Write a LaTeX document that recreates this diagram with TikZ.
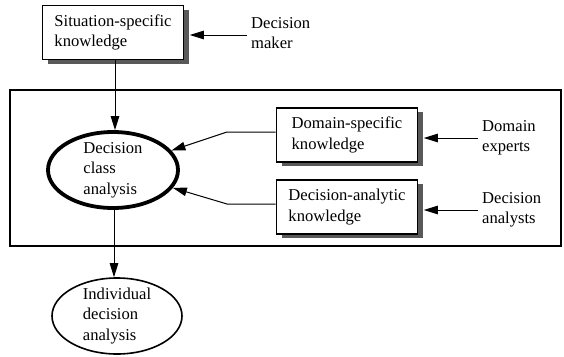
\documentclass[tikz,border=0pt]{standalone}
\usepackage{fontspec}
\setmainfont{Liberation Serif}
\usetikzlibrary{shapes.geometric,arrows.meta,shadows}
\begin{document}
\begin{tikzpicture}[x=1pt,y=-1pt,
  every node/.style={font=\fontsize{16.6}{20.5}\selectfont},
  kbox/.style={draw, line width=1.6pt, fill=white, align=left, inner sep=0pt,
    minimum width=141pt, minimum height=54pt,
    drop shadow={shadow xshift=5pt, shadow yshift=-4pt, fill=black!65, opacity=1}},
  oval/.style={ellipse, draw, align=left, inner sep=-3pt, minimum width=130pt, minimum height=76pt},
  actor/.style={anchor=west, align=left, inner sep=4pt},
  frame/.style={draw, line width=1.4pt, inner sep=0pt},
  conn/.style={line width=1pt},
  arr/.style={conn, -{Triangle[length=14pt,width=8.5pt]}}
]
\useasboundingbox (0,0) rectangle (564,356);

\node[frame, minimum width=551pt, minimum height=156pt] (frame) at (285.5,168) {};

\node[kbox] (sit) at (113,32.5) {Situation-specific\\knowledge};
\node[actor] (dm) at (247,33) {Decision\\maker};

\node[kbox] (dom) at (347,135) {Domain-specific\\knowledge};
\node[kbox] (da) at (347,207) {Decision-analytic\\knowledge};
\node[actor] (de) at (478,138) {Domain\\experts};
\node[actor] (dan) at (478,210) {Decision\\analysts};

\node[oval, line width=3.8pt] (dca) at (113,170) {Decision\\class\\analysis};
\node[oval, line width=1.6pt] (ida) at (117,316) {Individual\\decision\\analysis};

\coordinate (c1) at (227,132);
\coordinate (c2) at (227,204);

\draw[arr] (dm.west |- 0,35) -- ([xshift=5.5pt,yshift=-2.5pt]sit.east);
\draw[arr] (de.west) -- ([xshift=5.5pt,yshift=-3pt]dom.east);
\draw[arr] (dan.west) -- ([xshift=5.5pt,yshift=-3pt]da.east);

\draw[arr] ([xshift=2pt]sit.south) -- ([xshift=2pt]sit.south |- dca.north);
\draw[arr] ([xshift=1pt]dca.south) -- ([xshift=1pt]dca.south |- ida.north);

\draw[arr] (dom.west |- c1) -- (c1) -- (dca);
\draw[arr] (da.west |- c2) -- (c2) -- (dca);
\end{tikzpicture}
\end{document}
